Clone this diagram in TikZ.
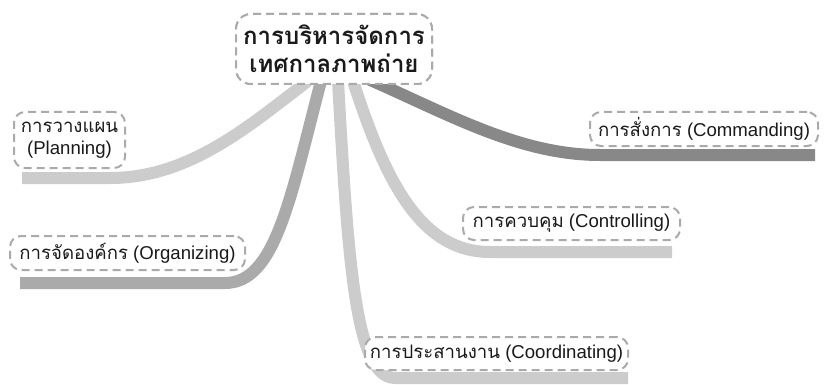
\documentclass[tikz,border=0pt]{standalone}
\usepackage{fontspec}
\setmainfont{Liberation Sans}
\newfontfamily\thaifont[Script=Thai]{Loma}
\newcommand{\thx}[1]{{\thaifont #1}}
\definecolor{lightbranch}{HTML}{CCCCCC}
\definecolor{midbranch}{HTML}{AAAAAA}
\definecolor{darkbranch}{HTML}{888888}
\definecolor{boxgray}{HTML}{AAAAAA}
\definecolor{inktext}{HTML}{1A1A1A}
\begin{document}
\begin{tikzpicture}[x=1pt,y=-1pt,
  branch/.style={line width=12pt, line cap=butt},
  topic/.style={draw=boxgray, dash pattern=on 8pt off 5pt, line width=2pt,
    rounded corners=11pt, fill=white, align=center, inner sep=0pt,
    text=inktext, font=\fontsize{18.6}{22}\selectfont},
  title/.style={topic, rounded corners=15pt, font=\fontsize{24}{28}\selectfont\bfseries}]
\useasboundingbox (0,0) rectangle (824,385);

% central topic (its shape anchors the branches)
\node[title, minimum width=196pt, minimum height=70pt] (root) at (334,49)
  {\thx{การบริหารจัดการ}\\\thx{เทศกาลภาพถ่าย}};

% branch end points
\coordinate (planEnd) at (22,178);
\coordinate (orgEnd) at (20,283);
\coordinate (coordEnd) at (628,378);
\coordinate (ctrlEnd) at (672,252);
\coordinate (cmdEnd) at (815,155);

% branches, drawn beneath the topic boxes
\draw[branch, lightbranch] ([xshift=-26pt,yshift=4pt]root.south)
  .. controls (250,125) and (190,178) .. (110,178) -- (planEnd);
\draw[branch, midbranch] ([xshift=-13pt,yshift=4pt]root.south)
  .. controls (290,200) and (275,283) .. (225,283) -- (orgEnd);
\draw[branch, lightbranch] ([xshift=4pt,yshift=4pt]root.south)
  .. controls (348,260) and (355,378) .. (395,378) -- (coordEnd);
\draw[branch, lightbranch] ([xshift=19pt,yshift=4pt]root.south)
  .. controls (385,180) and (420,252) .. (490,252) -- (ctrlEnd);
\draw[branch, darkbranch] ([xshift=34pt,yshift=6pt]root.south)
  .. controls (450,115) and (520,155) .. (600,155) -- (cmdEnd);

% topic boxes on top of the branches
\node[title, minimum width=196pt, minimum height=70pt] at (root)
  {\thx{การบริหารจัดการ}\\\thx{เทศกาลภาพถ่าย}};

\node[topic, minimum width=111pt, minimum height=56pt] (plan) at (69.5,140)
  {\thx{การวางแผน}\\(Planning)};
\node[topic, minimum width=235pt, minimum height=34pt] (org) at (127.5,253)
  {\thx{การจัดองค์กร} (Organizing)};
\node[topic, minimum width=263pt, minimum height=33pt] (coord) at (496.5,353.5)
  {\thx{การประสานงาน} (Coordinating)};
\node[topic, minimum width=217pt, minimum height=33pt] (ctrl) at (571.5,223.5)
  {\thx{การควบคุม} (Controlling)};
\node[topic, minimum width=228pt, minimum height=34pt] (cmd) at (704,129)
  {\thx{การสั่งการ} (Commanding)};
\end{tikzpicture}
\end{document}
